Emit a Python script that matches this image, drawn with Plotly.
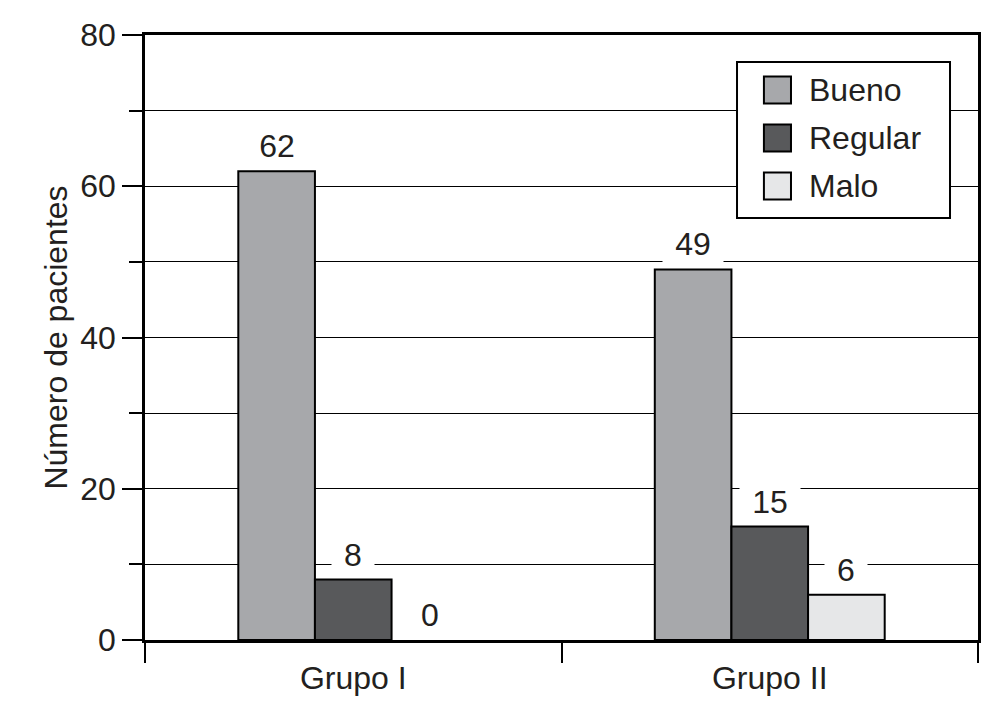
import plotly.graph_objects as go

categories = ["Grupo I", "Grupo II"]
series_names = ["Bueno", "Regular", "Malo"]
bueno = [62, 49]
regular = [8, 15]
malo = [0, 6]
series_values = [bueno, regular, malo]
colors = ["#a7a8ab", "#58595b", "#e6e7e8"]
y_ticks = [0, 20, 40, 60, 80]

FONT = "Liberation Sans, Arial, Helvetica, sans-serif"
FS = 32
TXT = "#231f20"
BARGAP = 0.448

fig = go.Figure()
for name, vals, col in zip(series_names, series_values, colors):
    fig.add_trace(go.Bar(
        x=categories, y=vals, name=name, showlegend=False,
        marker=dict(color=col,
                    line=dict(color="black", width=[0 if v == 0 else 2 for v in vals])),
    ))

# value labels with white background, placed above each bar
n = len(series_names)
w = (1 - BARGAP) / n
annotations = []
for i, vals in enumerate(series_values):
    off = (i - (n - 1) / 2) * w
    for j, v in enumerate(vals):
        txt = str(v)
        annotations.append(dict(
            x=j + off, y=v, xref="x", yref="y", text=txt,
            showarrow=False, yanchor="bottom", yshift=6,
            bgcolor="white", borderpad=0, width=18 * len(txt) + 24,
            font=dict(family=FONT, size=FS, color=TXT),
        ))

# legend box drawn in plot-area (paper) coordinates
shapes = []
LX0, LX1, LY0, LY1 = 0.7107, 0.9664, 0.6975, 0.9554
shapes.append(dict(type="rect", xref="paper", yref="paper", x0=LX0, x1=LX1,
                   y0=LY0, y1=LY1, fillcolor="white",
                   line=dict(color="black", width=2), layer="above"))
item_y = [0.9091, 0.8298, 0.7504]
SW_X0, SW_X1, SW_H = 0.743, 0.7755, 0.0223
for name, col, yc in zip(series_names, colors, item_y):
    shapes.append(dict(type="rect", xref="paper", yref="paper",
                       x0=SW_X0, x1=SW_X1, y0=yc - SW_H, y1=yc + SW_H,
                       fillcolor=col, line=dict(color="black", width=2),
                       layer="above"))
    annotations.append(dict(x=0.795, y=yc, xref="paper", yref="paper",
                            text=name, showarrow=False, xanchor="left",
                            yanchor="middle",
                            font=dict(family=FONT, size=FS, color=TXT)))

# page body has an 8px margin, so margins are compensated by 8px
fig.update_layout(
    width=1008, height=708,
    margin=dict(l=137, r=38, t=27, b=76),
    paper_bgcolor="white", plot_bgcolor="white",
    barmode="group", bargap=BARGAP, bargroupgap=0,
    font=dict(family=FONT, size=FS, color=TXT),
    annotations=annotations, shapes=shapes,
    showlegend=False,
    xaxis=dict(
        type="category", range=[-0.5, 1.5], automargin=False,
        tickson="boundaries", ticks="outside", ticklen=20, tickwidth=2,
        tickcolor="black", showline=True, linecolor="black", linewidth=2.5,
        mirror=True, showgrid=False, ticklabelstandoff=8,
        tickfont=dict(family=FONT, size=FS, color=TXT),
    ),
    yaxis=dict(
        range=[0, 80], tickvals=y_ticks, ticks="outside", ticklen=20,
        tickwidth=2, tickcolor="black", automargin=False,
        showline=True, linecolor="black", linewidth=2.5, mirror=True,
        showgrid=True, gridcolor="black", gridwidth=1.2,
        minor=dict(dtick=10, tick0=0, ticks="outside", ticklen=13,
                   tickwidth=2, tickcolor="black", showgrid=True,
                   gridcolor="black", gridwidth=1.2),
        zeroline=False,
        title=dict(text="Número de pacientes", standoff=4,
                   font=dict(family=FONT, size=FS, color=TXT)),
        tickfont=dict(family=FONT, size=FS, color=TXT),
    ),
)

fig.write_html("out.html")
